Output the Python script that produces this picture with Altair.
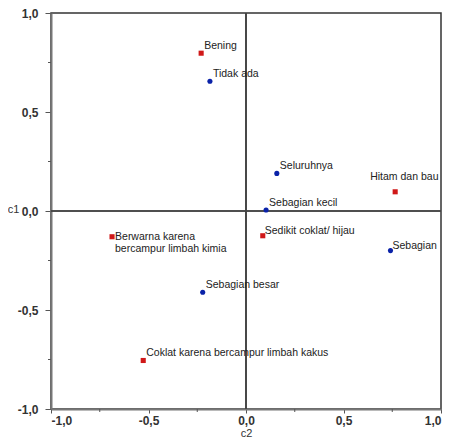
import altair as alt
import pandas as pd

labels = ["Bening", "Tidak ada", "Seluruhnya", "Hitam dan bau", "Sebagian kecil",
          "Berwarna karena\nbercampur limbah kimia", "Sedikit coklat/ hijau", "Sebagian",
          "Sebagian besar", "Coklat karena bercampur limbah kakus"]
c2 = [-0.23, -0.185, 0.158, 0.765, 0.103, -0.687, 0.086, 0.741, -0.222, -0.527]
c1 = [0.797, 0.655, 0.19, 0.097, 0.005, -0.13, -0.125, -0.2, -0.41, -0.755]
group = ["red", "blue", "blue", "red", "blue", "red", "red", "blue", "blue", "red"]

major_ticks = [-1.0, -0.5, 0.0, 0.5, 1.0]
minor_ticks = [-0.75, -0.25, 0.25, 0.75]

df = pd.DataFrame({"label": labels, "c2": c2, "c1": c1, "group": group})
minor_df = pd.DataFrame({"v": minor_ticks})

W, H = 390, 396
FONT = "Liberation Sans"
lab_expr = "replace(replace(format(datum.value, '.1f'), '.', ','), '\u2212', '-')"

xs = alt.Scale(domain=[-1, 1], nice=False, zero=False)
ys = alt.Scale(domain=[-1, 1], nice=False, zero=False)

xaxis = alt.Axis(values=major_ticks, labelExpr=lab_expr, grid=False, tickSize=4,
                 tickColor="#555", domainColor="#777", domainWidth=2,
                 labelFont=FONT, labelFontSize=12, labelFontWeight="bold",
                 labelColor="#333", labelPadding=2, title="c2", titleFont=FONT,
                 titleFontSize=11, titleFontWeight="normal", titleColor="#333",
                 titleY=24, titleBaseline="middle")
yaxis = alt.Axis(values=major_ticks, labelExpr=lab_expr, grid=False, tickSize=6,
                 tickColor="#555", domainColor="#777", domainWidth=2,
                 labelFont=FONT, labelFontSize=12, labelFontWeight="bold",
                 labelColor="#333", labelPadding=7, title="c1", titleFont=FONT,
                 titleFontSize=11, titleFontWeight="normal", titleColor="#333",
                 titleAngle=0, titleX=-38, titleY=196, titleAlign="center",
                 titleBaseline="middle")

base = alt.Chart(df)

zero_v = alt.Chart(minor_df).mark_rule(color="#444", strokeWidth=1.2).encode(
    x=alt.datum(0, scale=xs, axis=xaxis, type="quantitative"))
zero_h = alt.Chart(minor_df).mark_rule(color="#444", strokeWidth=1.2).encode(
    y=alt.datum(0, scale=ys, axis=yaxis, type="quantitative"))

minor_x = alt.Chart(minor_df).mark_rule(color="#555", strokeWidth=1).encode(
    x=alt.X("v:Q", scale=xs), y=alt.value(H), y2=alt.value(H + 3))
minor_y = alt.Chart(minor_df).mark_rule(color="#555", strokeWidth=1).encode(
    y=alt.Y("v:Q", scale=ys), x=alt.value(0), x2=alt.value(-3))

pts = base.mark_point(filled=True, size=26, opacity=1).encode(
    x=alt.X("c2:Q", scale=xs),
    y=alt.Y("c1:Q", scale=ys),
    color=alt.Color("group:N", scale=alt.Scale(domain=["red", "blue"], range=["#d01818", "#0a22a8"]), legend=None),
    shape=alt.Shape("group:N", scale=alt.Scale(domain=["red", "blue"], range=["square", "circle"]), legend=None),
)

txt_kw = dict(font=FONT, fontSize=10.5, color="#222")
special = ["Hitam dan bau", "Berwarna karena\nbercampur limbah kimia", "Sebagian", "Sedikit coklat/ hijau"]

txt_main = base.transform_filter(
    alt.FieldOneOfPredicate(field="label", oneOf=[l for l in labels if l not in special])
).mark_text(align="left", baseline="bottom", dx=3, dy=-2, **txt_kw).encode(
    x=alt.X("c2:Q", scale=xs), y=alt.Y("c1:Q", scale=ys), text="label:N")

txt_hitam = base.transform_filter(alt.datum.label == "Hitam dan bau").mark_text(
    align="left", baseline="bottom", dx=-25, dy=-10, **txt_kw).encode(
    x=alt.X("c2:Q", scale=xs), y=alt.Y("c1:Q", scale=ys), text="label:N")

txt_berwarna = base.transform_filter(alt.datum.label == "Berwarna karena\nbercampur limbah kimia").mark_text(
    align="left", baseline="middle", dx=3, dy=0, lineBreak="\n", lineHeight=12.6, **txt_kw).encode(
    x=alt.X("c2:Q", scale=xs), y=alt.Y("c1:Q", scale=ys), text="label:N")

txt_small = base.transform_filter(
    alt.FieldOneOfPredicate(field="label", oneOf=["Sebagian", "Sedikit coklat/ hijau"])
).mark_text(align="left", baseline="bottom", dx=2, dy=0, **txt_kw).encode(
    x=alt.X("c2:Q", scale=xs), y=alt.Y("c1:Q", scale=ys), text="label:N")

chart = alt.layer(zero_v, zero_h, minor_x, minor_y, pts, txt_main, txt_hitam, txt_berwarna, txt_small).properties(
    width=W, height=H,
    autosize=alt.AutoSizeParams(type="none"),
    padding={"left": 43, "top": 5, "right": 1, "bottom": 31},
    background="white",
).configure_view(stroke="#333", strokeWidth=1.5)

chart.save("out.html", embed_options={"renderer": "svg", "actions": False})
